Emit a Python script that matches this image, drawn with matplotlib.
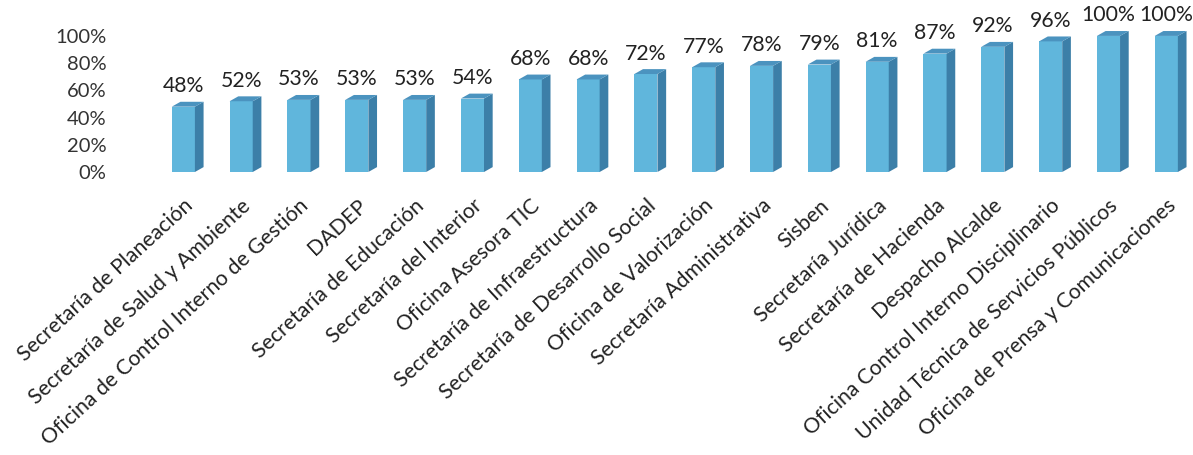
"""Porcentaje por dependencia - barras con efecto 3D."""
import matplotlib.pyplot as plt
from matplotlib.patches import Polygon

dependencias = [
    'Secretaría de Planeación',
    'Secretaría de Salud y Ambiente',
    'Oficina de Control Interno de Gestión',
    'DADEP',
    'Secretaría de Educación',
    'Secretaría del Interior',
    'Oficina Asesora TIC',
    'Secretaría de Infraestructura',
    'Secretaría de Desarrollo Social',
    'Oficina de Valorización',
    'Secretaría Administrativa',
    'Sisben',
    'Secretaría Jurídica',
    'Secretaría de Hacienda',
    'Despacho Alcalde',
    'Oficina Control Interno Disciplinario',
    'Unidad Técnica de Servicios Públicos',
    'Oficina de Prensa y Comunicaciones',
]
valores = [48, 52, 53, 53, 53, 54, 68, 68, 72, 77, 78, 79, 81, 87, 92, 96, 100, 100]
y_ticks = [0, 20, 40, 60, 80, 100]

plt.rcParams['font.family'] = ['Lato', 'DejaVu Sans']

fig = plt.figure(figsize=(11.93, 4.55), dpi=100)
ax = fig.add_axes([0.096, 0.622, 0.901, 0.311])

n = len(valores)
x = list(range(n))
w = 0.40
bars = ax.bar(x, valores, width=w, color='#60B6DC', zorder=2)
for b in bars:
    b.set_clip_on(False)

# caras lateral y superior para el efecto 3D
dx, dy = 0.15, 3.6
for i, v in zip(x, valores):
    xl, xr = i - w / 2, i + w / 2
    side = Polygon([(xr, 0), (xr, v), (xr + dx, v + dy), (xr + dx, dy)],
                   closed=True, facecolor='#3C7FA8', edgecolor='none',
                   zorder=2, clip_on=False)
    top = Polygon([(xl, v), (xr, v), (xr + dx, v + dy), (xl + dx, v + dy)],
                  closed=True, facecolor='#4B93BF', edgecolor='none',
                  zorder=2, clip_on=False)
    ax.add_patch(side)
    ax.add_patch(top)
    ax.annotate(f'{v}%', (i, v + dy), xytext=(0, 4),
                textcoords='offset points', ha='center', va='bottom',
                fontsize=15.3, color='#222222', annotation_clip=False)

ax.set_xlim(-1.19, n - 0.6)
ax.set_ylim(0, 104)
ax.set_yticks(y_ticks)
ax.set_yticklabels([f'{t}%' for t in y_ticks], fontsize=14.5, color='#333333')
ax.set_xticks(x)
ax.set_xticklabels(dependencias, rotation=42.5, ha='right', rotation_mode='anchor',
                   fontsize=15.3, color='#222222')
ax.tick_params(axis='both', length=0)
ax.tick_params(axis='x', pad=17)
ax.tick_params(axis='y', pad=6)
for s in ax.spines.values():
    s.set_visible(False)

fig.savefig('out.png', dpi=100)
